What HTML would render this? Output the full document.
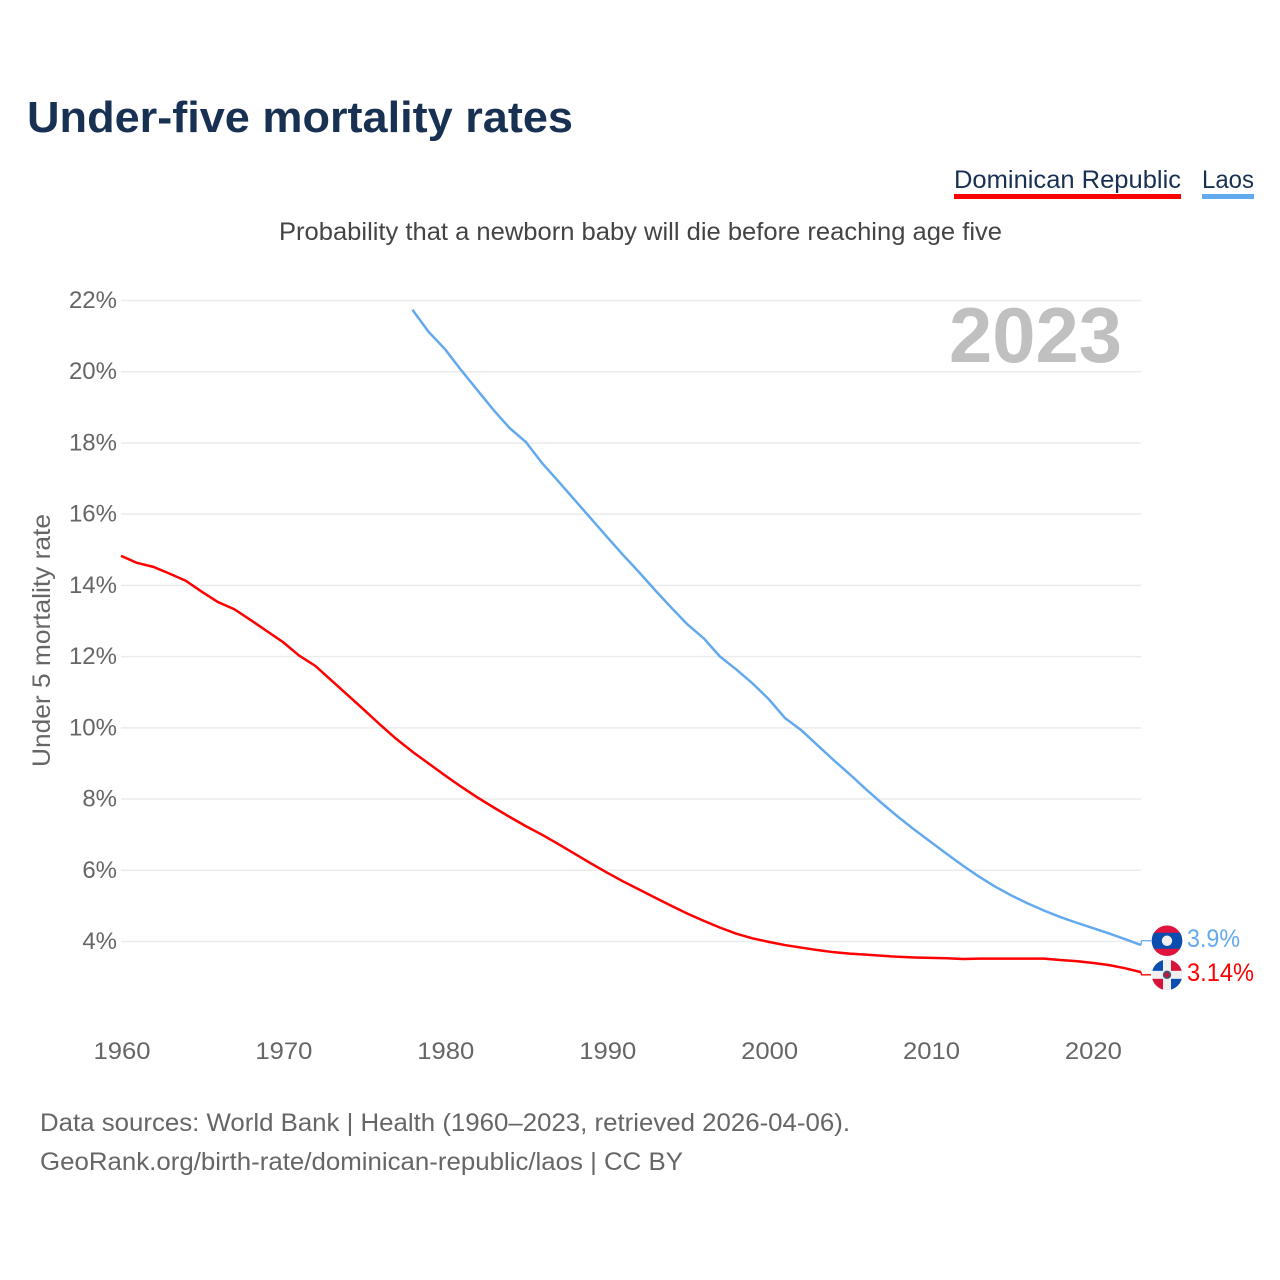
<!DOCTYPE html>
<html lang="en">
<head>
<meta charset="utf-8">
<title>Under-five mortality rates</title>
<style>
  html,body{margin:0;padding:0;background:#fff;width:1280px;height:1280px;overflow:hidden}
  svg{display:block}
  text{font-family:"Liberation Sans",sans-serif}
</style>
</head>
<body>
<svg id="chart" xmlns="http://www.w3.org/2000/svg" width="1280" height="1280" viewBox="0 0 1280 1280">
  <defs>
    <clipPath id="flag-clip-a"><circle cx="0" cy="0" r="15.3"/></clipPath>
    <clipPath id="flag-clip-b"><circle cx="0" cy="0" r="15.3"/></clipPath>
  </defs>
  <rect width="1280" height="1280" fill="#fff"/>
  <text x="27" y="132" font-size="44" font-weight="700" fill="#183153" textLength="546" lengthAdjust="spacingAndGlyphs">Under-five mortality rates</text>

  <g>
    <text x="954" y="188" font-size="25" fill="#183153" textLength="227" lengthAdjust="spacingAndGlyphs">Dominican Republic</text>
    <rect x="954" y="194" width="227" height="5" fill="#ff0000"/>
  </g>
  <g>
    <text x="1202" y="188" font-size="25" fill="#183153" textLength="52" lengthAdjust="spacingAndGlyphs">Laos</text>
    <rect x="1202" y="194" width="52" height="5" fill="#63a9ee"/>
  </g>

  <text x="279" y="240" font-size="25" fill="#444" textLength="723" lengthAdjust="spacingAndGlyphs">Probability that a newborn baby will die before reaching age five</text>
  <text transform="translate(50,767) rotate(-90)" font-size="25" fill="#666" textLength="253" lengthAdjust="spacingAndGlyphs">Under 5 mortality rate</text>

  <g id="grid"></g>
  <g id="y-ticks"></g>
  <g id="x-ticks"></g>

  <text x="949" y="362" font-size="78" font-weight="700" fill="#c0c0c0" textLength="173" lengthAdjust="spacingAndGlyphs">2023</text>

  <g id="series"></g>

  <g id="flag-laos" clip-path="url(#flag-clip-a)">
    <rect x="-16" y="-16" width="32" height="32" fill="#e0143c"/>
    <rect x="-16" y="-8" width="32" height="16" fill="#0a4fb0"/>
    <circle r="5.2" fill="#f0f0f0"/>
  </g>
  <g id="flag-dr" clip-path="url(#flag-clip-b)">
    <rect x="-16" y="-16" width="32" height="32" fill="#f0f0f0"/>
    <rect x="-16" y="-16" width="12" height="12" fill="#0a4fb0"/>
    <rect x="4" y="-16" width="12" height="12" fill="#d8143a"/>
    <rect x="-16" y="4" width="12" height="12" fill="#d8143a"/>
    <rect x="4" y="4" width="12" height="12" fill="#0a4fb0"/>
    <circle r="4.2" fill="#3a5a78"/>
    <circle r="2.5" fill="#c8143a"/>
  </g>
  <g id="end-labels"></g>

  <text x="40" y="1131" font-size="25" fill="#666" textLength="810" lengthAdjust="spacingAndGlyphs">Data sources: World Bank | Health (1960–2023, retrieved 2026-04-06).</text>
  <text x="40" y="1170" font-size="25" fill="#666" textLength="643" lengthAdjust="spacingAndGlyphs">GeoRank.org/birth-rate/dominican-republic/laos | CC BY</text>
</svg>
<script>
const years = [1960,1961,1962,1963,1964,1965,1966,1967,1968,1969,1970,1971,1972,1973,1974,1975,1976,1977,1978,1979,1980,1981,1982,1983,1984,1985,1986,1987,1988,1989,1990,1991,1992,1993,1994,1995,1996,1997,1998,1999,2000,2001,2002,2003,2004,2005,2006,2007,2008,2009,2010,2011,2012,2013,2014,2015,2016,2017,2018,2019,2020,2021,2022,2023];
const dominicanValues = [14.83,14.63,14.52,14.33,14.13,13.82,13.53,13.33,13.03,12.72,12.41,12.03,11.74,11.33,10.92,10.51,10.09,9.69,9.33,9.0,8.67,8.35,8.05,7.77,7.5,7.24,7.0,6.74,6.47,6.2,5.94,5.69,5.46,5.23,5.0,4.78,4.58,4.39,4.22,4.09,3.99,3.9,3.83,3.76,3.7,3.66,3.63,3.6,3.57,3.55,3.54,3.53,3.51,3.52,3.52,3.52,3.52,3.52,3.48,3.45,3.4,3.34,3.25,3.14];
const laosValues = [null,null,null,null,null,null,null,null,null,null,null,null,null,null,null,null,null,null,21.74,21.12,20.64,20.05,19.49,18.93,18.42,18.03,17.44,16.93,16.41,15.89,15.37,14.86,14.37,13.86,13.37,12.9,12.51,12.0,11.64,11.25,10.81,10.28,9.94,9.52,9.1,8.7,8.28,7.88,7.5,7.14,6.8,6.46,6.13,5.82,5.54,5.29,5.07,4.87,4.69,4.53,4.38,4.23,4.07,3.9];
const yTickValues = [22,20,18,16,14,12,10,8,6,4];
const xTickYears = [1960,1970,1980,1990,2000,2010,2020];
const endLabelLaos = "3.9%";
const endLabelDominican = "3.14%";

const NS = "http://www.w3.org/2000/svg";
const plotLeft = 121, plotRight = 1141;
function xScale(year){ return plotLeft + (year - 1960) * (plotRight - plotLeft) / 63; }
function yScale(v){ return 941.5 - (v - 4) * 35.61; }
function make(tag, attrs, parent){
  const el = document.createElementNS(NS, tag);
  for (const k in attrs) el.setAttribute(k, attrs[k]);
  parent.appendChild(el);
  return el;
}
const gridG = document.getElementById('grid');
const yG = document.getElementById('y-ticks');
const xG = document.getElementById('x-ticks');
const seriesG = document.getElementById('series');
const endG = document.getElementById('end-labels');

yTickValues.forEach(function(v){
  const line = make('line', {x1:plotLeft, x2:plotRight, y1:yScale(v), y2:yScale(v), stroke:'#ebebeb', 'stroke-width':1.5}, gridG);
  
  
  const t = make('text', {x:117, y:yScale(v)+7.5, 'text-anchor':'end', 'font-size':24, fill:'#666'}, yG);
  t.textContent = v + '%';
  
  
});
xTickYears.forEach(function(y){
  const t = make('text', {x:xScale(y)+1, y:1059, 'text-anchor':'middle', 'font-size':24, fill:'#666', textLength:57, lengthAdjust:'spacingAndGlyphs'}, xG);
  t.textContent = y;
  
  
});
function pathFor(values){
  let d = '';
  values.forEach(function(v, i){
    if (v === null) return;
    d += (d ? 'L' : 'M') + xScale(years[i]).toFixed(2) + ' ' + yScale(v).toFixed(2);
  });
  return d;
}
const laosLine = make('path', {d:pathFor(laosValues), fill:'none', stroke:'#63a9ee', 'stroke-width':2.5, 'stroke-linejoin':'round'}, seriesG);


const drLine = make('path', {d:pathFor(dominicanValues), fill:'none', stroke:'#ff0000', 'stroke-width':2.5, 'stroke-linejoin':'round'}, seriesG);



const lastYear = years[years.length - 1];
const ex = xScale(lastYear);
const laosEndY = yScale(laosValues[laosValues.length - 1]);
const drEndY = yScale(dominicanValues[dominicanValues.length - 1]);
const laosLabelY = laosEndY - 4.3;
const drLabelY = drEndY + 2.7;

const laosConn = make('path', {d:'M'+ex+' '+laosEndY+'L'+(ex+0.5)+' '+laosLabelY+'L'+(ex+10)+' '+laosLabelY, fill:'none', stroke:'#63a9ee', 'stroke-width':1.3}, seriesG);


const drConn = make('path', {d:'M'+ex+' '+drEndY+'L'+(ex+0.5)+' '+drLabelY+'L'+(ex+10)+' '+drLabelY, fill:'none', stroke:'#ff0000', 'stroke-width':1.3}, seriesG);



document.getElementById('flag-laos').setAttribute('transform', 'translate(' + (ex+26) + ',' + laosLabelY + ')');
document.getElementById('flag-dr').setAttribute('transform', 'translate(' + (ex+26) + ',' + drLabelY + ')');

const laosText = make('text', {x:ex+46, y:laosLabelY+6, 'font-size':25, fill:'#63a9ee', textLength:53, lengthAdjust:'spacingAndGlyphs'}, endG);
laosText.textContent = endLabelLaos;


const drText = make('text', {x:ex+46, y:drLabelY+6, 'font-size':25, fill:'#ff0000', textLength:67, lengthAdjust:'spacingAndGlyphs'}, endG);
drText.textContent = endLabelDominican;


</script>
</body>
</html>
